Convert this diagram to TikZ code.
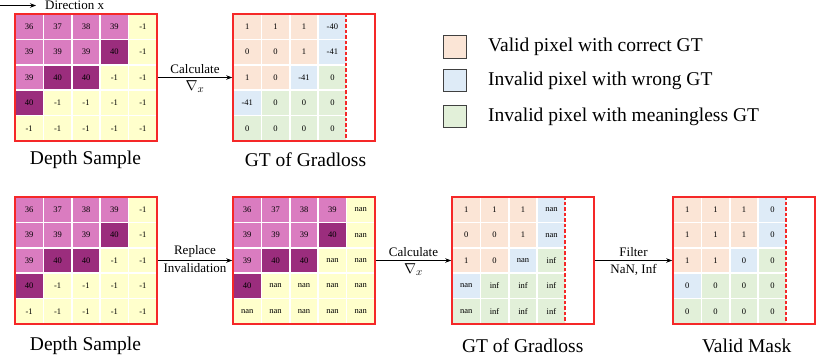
\documentclass[tikz,border=0pt]{standalone}
\usepackage{fontspec}
\setmainfont{Liberation Serif}
\usetikzlibrary{arrows.meta,calc}
\definecolor{cPk}{RGB}{218,124,192}
\definecolor{cDk}{RGB}{155,45,125}
\definecolor{cYl}{RGB}{255,255,204}
\definecolor{cOr}{RGB}{251,229,214}
\definecolor{cBl}{RGB}{222,235,247}
\definecolor{cGr}{RGB}{226,240,217}
\definecolor{cFr}{RGB}{245,40,40}
\tikzset{
  cell/.style={minimum width=26.9pt, minimum height=23.9pt, inner sep=0pt, font=\fontsize{8.5}{9}\selectfont},
  frame/.style={draw=cFr, line width=1.6pt, minimum width=142pt, minimum height=127pt, inner sep=0pt},
  dashline/.style={draw=cFr, line width=1.5pt, dash pattern=on 3.5pt off 2pt},
  arr/.style={-{Stealth[length=6pt,width=4.5pt]}, line width=0.8pt},
  lab/.style={font=\fontsize{19.5}{22}\selectfont},
  small/.style={font=\fontsize{13}{14}\selectfont, inner sep=0pt},
  nab/.style={font=\fontsize{15}{16}\selectfont, inner sep=0pt},
  legbox/.style={draw=black!75, line width=0.8pt, minimum width=23pt, minimum height=22.5pt, inner sep=0pt},
  legtxt/.style={font=\fontsize{19.5}{22}\selectfont, anchor=west, inner sep=0pt},
}
\newcommand{\gridrow}[5]{%
  \foreach \s/\v [count=\i from 0] in {#5}{%
    \node[cell, fill=\s] (#1-#4-\i) at ({#2+(\i+0.5)*28.4},{#3+(#4+0.5)*25.4}) {\v};
  }}
\begin{document}
\begin{tikzpicture}[x=1pt,y=-1pt]
\useasboundingbox (0,0) rectangle (830,359);
% direction
\coordinate (dirA) at (0,5.5);
\node[small, anchor=west, inner sep=0pt] (dirT) at (45,5.5) {Direction x};
\draw[arr] (dirA) -- (36,5.5);

% ---- top depth sample
\gridrow{ta}{15}{14}{0}{cPk/36,cPk/37,cPk/38,cPk/39,cYl/-1}
\gridrow{ta}{15}{14}{1}{cPk/39,cPk/39,cPk/39,cDk/40,cYl/-1}
\gridrow{ta}{15}{14}{2}{cPk/39,cDk/40,cDk/40,cYl/-1,cYl/-1}
\gridrow{ta}{15}{14}{3}{cDk/40,cYl/-1,cYl/-1,cYl/-1,cYl/-1}
\gridrow{ta}{15}{14}{4}{cYl/-1,cYl/-1,cYl/-1,cYl/-1,cYl/-1}
\node[frame] (TA) at (86,77.5) {};
\node[lab] (TAl) at (85.5,160) {Depth Sample};

% ---- top GT
\gridrow{tb}{233}{14}{0}{cOr/1,cOr/1,cOr/1,cBl/-40}
\gridrow{tb}{233}{14}{1}{cOr/0,cOr/0,cOr/1,cBl/-41}
\gridrow{tb}{233}{14}{2}{cOr/1,cOr/0,cBl/-41,cGr/0}
\gridrow{tb}{233}{14}{3}{cBl/-41,cGr/0,cGr/0,cGr/0}
\gridrow{tb}{233}{14}{4}{cGr/0,cGr/0,cGr/0,cGr/0}
\node[frame] (TB) at (304,77.5) {};
\draw[dashline] ($(TB.north west)+(113.6,0)$) -- ($(TB.south west)+(113.6,0)$);
\node[lab] (TBl) at (305.5,160) {GT of Gradloss};
\draw[arr] (TA.east) -- node[small, above=3pt] {Calculate} node[nab, below=3pt] {$\nabla_x$} (TB.west);

% ---- legend
\node[legbox, fill=cOr] (L1) at (454.5,47) {};
\node[legbox, fill=cBl] (L2) at (454.5,80.5) {};
\node[legbox, fill=cGr] (L3) at (454.5,116.5) {};
\node[legtxt] (L1t) at (488,47) {Valid pixel with correct GT};
\node[legtxt] (L2t) at (488,80.5) {Invalid pixel with wrong GT};
\node[legtxt] (L3t) at (488,116.5) {Invalid pixel with meaningless GT};

% ---- bottom depth sample
\gridrow{ba}{15}{197}{0}{cPk/36,cPk/37,cPk/38,cPk/39,cYl/-1}
\gridrow{ba}{15}{197}{1}{cPk/39,cPk/39,cPk/39,cDk/40,cYl/-1}
\gridrow{ba}{15}{197}{2}{cPk/39,cDk/40,cDk/40,cYl/-1,cYl/-1}
\gridrow{ba}{15}{197}{3}{cDk/40,cYl/-1,cYl/-1,cYl/-1,cYl/-1}
\gridrow{ba}{15}{197}{4}{cYl/-1,cYl/-1,cYl/-1,cYl/-1,cYl/-1}
\node[frame] (BA) at (86,260.5) {};
\node[lab] (BAl) at (85.5,345.5) {Depth Sample};

% ---- bottom replaced
\gridrow{bb}{233}{197}{0}{cPk/36,cPk/37,cPk/38,cPk/39,cYl/nan}
\gridrow{bb}{233}{197}{1}{cPk/39,cPk/39,cPk/39,cDk/40,cYl/nan}
\gridrow{bb}{233}{197}{2}{cPk/39,cDk/40,cDk/40,cYl/nan,cYl/nan}
\gridrow{bb}{233}{197}{3}{cDk/40,cYl/nan,cYl/nan,cYl/nan,cYl/nan}
\gridrow{bb}{233}{197}{4}{cYl/nan,cYl/nan,cYl/nan,cYl/nan,cYl/nan}
\node[frame] (BB) at (304,260.5) {};
\draw[arr] (BA.east) -- node[small, above=3pt] {Replace} node[small, below=3pt] {Invalidation} (BB.west);

% ---- bottom GT
\gridrow{bc}{452}{197}{0}{cOr/1,cOr/1,cOr/1,cBl/nan}
\gridrow{bc}{452}{197}{1}{cOr/0,cOr/0,cOr/1,cBl/nan}
\gridrow{bc}{452}{197}{2}{cOr/1,cOr/0,cBl/nan,cGr/inf}
\gridrow{bc}{452}{197}{3}{cBl/nan,cGr/inf,cGr/inf,cGr/inf}
\gridrow{bc}{452}{197}{4}{cGr/nan,cGr/inf,cGr/inf,cGr/inf}
\node[frame] (BC) at (523,260.5) {};
\draw[dashline] ($(BC.north west)+(113.6,0)$) -- ($(BC.south west)+(113.6,0)$);
\node[lab] (BCl) at (522.7,345.5) {GT of Gradloss};
\draw[arr] (BB.east) -- node[small, above=3pt] {Calculate} node[nab, below=3pt] {$\nabla_x$} (BC.west);

% ---- valid mask
\gridrow{bd}{673}{197}{0}{cOr/1,cOr/1,cOr/1,cBl/0}
\gridrow{bd}{673}{197}{1}{cOr/1,cOr/1,cOr/1,cBl/0}
\gridrow{bd}{673}{197}{2}{cOr/1,cOr/1,cBl/0,cGr/0}
\gridrow{bd}{673}{197}{3}{cBl/0,cGr/0,cGr/0,cGr/0}
\gridrow{bd}{673}{197}{4}{cGr/0,cGr/0,cGr/0,cGr/0}
\node[frame] (BD) at (744,260.5) {};
\draw[dashline] ($(BD.north west)+(113.6,0)$) -- ($(BD.south west)+(113.6,0)$);
\node[lab] (BDl) at (746.7,345.5) {Valid Mask};
\draw[arr] (BC.east) -- node[small, above=3pt] {Filter} node[small, below=3pt] {NaN, Inf} (BD.west);
\end{tikzpicture}
\end{document}
